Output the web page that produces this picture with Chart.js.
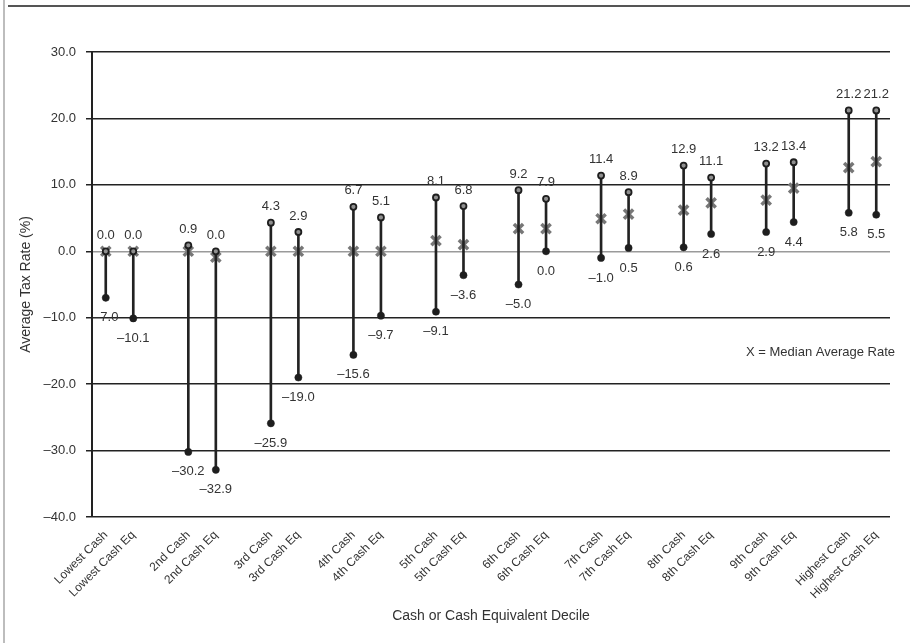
<!DOCTYPE html>
<html>
<head>
<meta charset="utf-8">
<script src="https://cdn.jsdelivr.net/npm/chart.js@4.4.1/dist/chart.umd.min.js"></script>
<style>
  body { margin: 0; background: #fff; }
  #wrap { position: relative; width: 910px; height: 643px; }
  #leftRule { position: absolute; left: 3px; top: 0; width: 2px; height: 643px; background: #bdbdbd; }
  #topRule { position: absolute; left: 8px; right: 0; top: 5px; height: 2px; background: #555; }
  canvas { position: absolute; left: 0; top: 0; }
</style>
</head>
<body>
<div id="wrap">
  <div id="leftRule"></div>
  <div id="topRule"></div>
  <canvas id="myChart" width="910" height="643"></canvas>
</div>
<script>
// categories ('' = spacer between deciles)
const labels = [
  'Lowest Cash', 'Lowest Cash Eq', '',
  '2nd Cash', '2nd Cash Eq', '',
  '3rd Cash', '3rd Cash Eq', '',
  '4th Cash', '4th Cash Eq', '',
  '5th Cash', '5th Cash Eq', '',
  '6th Cash', '6th Cash Eq', '',
  '7th Cash', '7th Cash Eq', '',
  '8th Cash', '8th Cash Eq', '',
  '9th Cash', '9th Cash Eq', '',
  'Highest Cash', 'Highest Cash Eq'
];

const highVals = [
  0.0, 0.0, null,
  0.9, 0.0, null,
  4.3, 2.9, null,
  6.7, 5.1, null,
  8.1, 6.8, null,
  9.2, 7.9, null,
  11.4, 8.9, null,
  12.9, 11.1, null,
  13.2, 13.4, null,
  21.2, 21.2
];

const lowVals = [
  -7.0, -10.1, null,
  -30.2, -32.9, null,
  -25.9, -19.0, null,
  -15.6, -9.7, null,
  -9.1, -3.6, null,
  -5.0, 0.0, null,
  -1.0, 0.5, null,
  0.6, 2.6, null,
  2.9, 4.4, null,
  5.8, 5.5
];

const medianVals = [
  0.0, 0.0, null,
  0.0, -0.9, null,
  0.0, 0.0, null,
  0.0, 0.0, null,
  1.6, 1.0, null,
  3.4, 3.4, null,
  4.9, 5.6, null,
  6.2, 7.3, null,
  7.7, 9.5, null,
  12.6, 13.5
];

const yTicks = [-40, -30, -20, -10, 0, 10, 20, 30];

const fmt = v => (v < 0 ? '\u2013' + Math.abs(v).toFixed(1) : v.toFixed(1));

const textColor = '#333';
const fontFam = '"Liberation Sans", Arial, sans-serif';

const valueLabels = {
  id: 'valueLabels',
  afterDatasetsDraw(chart) {
    const { ctx, scales: { x, y } } = chart;
    ctx.save();
    ctx.font = '13px ' + fontFam;
    ctx.fillStyle = textColor;
    ctx.textAlign = 'center';
    ctx.textBaseline = 'middle';
    labels.forEach((lab, i) => {
      if (highVals[i] === null) return;
      const px = x.getPixelForValue(i);
      ctx.fillText(fmt(highVals[i]), px, y.getPixelForValue(highVals[i]) - 16);
      ctx.fillText(fmt(lowVals[i]), px, y.getPixelForValue(lowVals[i]) + 20);
    });
    // note
    ctx.textAlign = 'right';
    ctx.fillText('X = Median Average Rate', chart.chartArea.right + 5, y.getPixelForValue(-15.3));
    ctx.restore();
  }
};

const rangeData = lowVals.map((lo, i) => lo === null ? null : [lo, highVals[i]]);

new Chart(document.getElementById('myChart'), {
  type: 'bar',
  data: {
    labels: labels,
    datasets: [
      {
        type: 'line',
        label: 'High',
        data: highVals,
        showLine: false,
        pointStyle: 'circle',
        pointRadius: 3,
        pointBackgroundColor: '#8f8f8f',
        pointBorderColor: '#1e1e1e',
        pointBorderWidth: 1.8,
        order: 1
      },
      {
        type: 'line',
        label: 'Low',
        data: lowVals,
        showLine: false,
        pointStyle: 'circle',
        pointRadius: 3.6,
        pointBackgroundColor: '#1e1e1e',
        pointBorderColor: '#1e1e1e',
        pointBorderWidth: 0.5,
        order: 1
      },
      {
        label: 'Range',
        data: rangeData,
        backgroundColor: '#222',
        barThickness: 2,
        order: 2
      },
      {
        type: 'line',
        label: 'Median',
        data: medianVals,
        showLine: false,
        pointStyle: 'crossRot',
        pointRadius: 6.5,
        pointBorderColor: '#777',
        pointBorderWidth: 3.5,
        order: 3
      }
    ]
  },
  options: {
    responsive: false,
    animation: false,
    layout: { padding: { left: 14, right: 20, top: 52, bottom: 14 } },
    plugins: {
      legend: { display: false },
      tooltip: { enabled: false }
    },
    scales: {
      x: {
        offset: true,
        grid: { display: false, drawTicks: false },
        border: { display: false },
        ticks: {
          autoSkip: false,
          minRotation: 45,
          maxRotation: 45,
          padding: 11,
          color: textColor,
          font: { family: fontFam, size: 12 }
        },
        title: {
          display: true,
          text: 'Cash or Cash Equivalent Decile',
          color: textColor,
          font: { family: fontFam, size: 14 },
          padding: { top: 0, bottom: 4 }
        },
        afterFit: s => { s.height = 112; }
      },
      y: {
        min: -40,
        max: 30,
        afterBuildTicks: s => { s.ticks = yTicks.map(v => ({ value: v })); },
        grid: {
          color: c => (c.tick && c.tick.value === 0 ? '#9a9a9a' : '#222'),
          tickColor: '#222',
          lineWidth: 1.5,
          tickLength: 6
        },
        border: { display: true, color: '#222', width: 2 },
        ticks: {
          padding: 10,
          color: textColor,
          font: { family: fontFam, size: 13 },
          callback: v => fmt(v)
        },
        title: {
          display: true,
          text: 'Average Tax Rate (%)',
          color: textColor,
          font: { family: fontFam, size: 14 },
          padding: 4
        },
        afterFit: s => { s.width = 78; }
      }
    }
  },
  plugins: [valueLabels]
});
</script>
</body>
</html>
